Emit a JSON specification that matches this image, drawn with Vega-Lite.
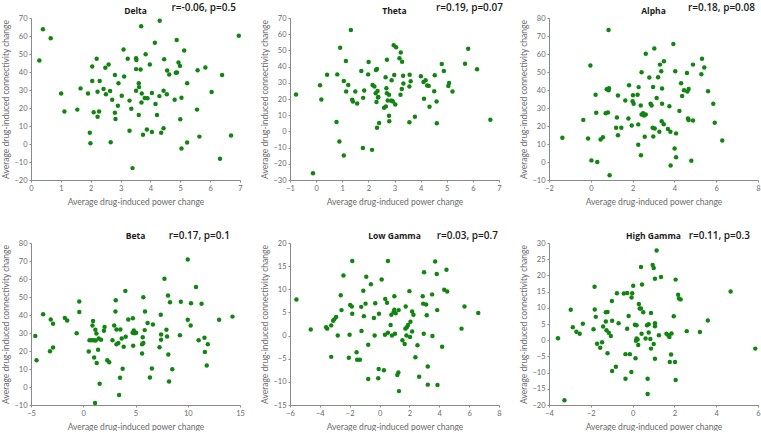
{
  "$schema": "https://vega.github.io/schema/vega-lite/v6.json",
  "background": "white",
  "padding": {"left": 1, "top": 3, "right": 0, "bottom": 0},
  "columns": 3,
  "bounds": "flush",
  "spacing": {"row": 63, "column": 50},
  "config": {
    "view": {"stroke": null},
    "axis": {
      "grid": false,
      "domainColor": "#8a8a8a",
      "tickColor": "#8a8a8a",
      "labelColor": "#6a6a6a",
      "titleColor": "#6a6a6a",
      "labelFont": "Lato",
      "titleFont": "Lato",
      "labelFontSize": 7.5,
      "titleFontSize": 8.5,
      "titleFontWeight": "normal",
      "tickSize": 2,
      "labelPadding": 2,
      "titlePadding": 3,
      "labelOverlap": false,
      "labelFlush": false,
      "labelBound": false
    },
    "axisX": {"titlePadding": 6},
    "text": {"font": "Open Sans", "color": "#1a1a1a", "baseline": "alphabetic"}
  },
  "datasets": {
    "delta": [
      {"x":0.28,"y":46.4},{"x":0.40,"y":63.7},{"x":0.66,"y":58.7},{"x":1.01,"y":28.1},{"x":1.12,"y":18.0},{"x":1.55,"y":19.1},{"x":1.66,"y":30.9},{"x":1.91,"y":28.1},{"x":1.97,"y":6.2},{"x":1.99,"y":0.4},
      {"x":2.05,"y":43.1},{"x":2.05,"y":35.0},{"x":2.10,"y":17.6},{"x":2.20,"y":47.3},{"x":2.23,"y":29.0},{"x":2.23,"y":15.2},{"x":2.30,"y":35.0},{"x":2.28,"y":18.0},{"x":2.43,"y":30.5},{"x":2.49,"y":42.3},
      {"x":2.51,"y":27.7},{"x":2.60,"y":44.2},{"x":2.65,"y":29.4},{"x":2.67,"y":1.0},{"x":2.72,"y":24.6},{"x":2.81,"y":38.3},{"x":2.81,"y":17.4},{"x":2.83,"y":13.9},{"x":2.91,"y":21.3},{"x":2.93,"y":33.7},
      {"x":3.04,"y":26.8},{"x":3.10,"y":52.5},{"x":3.12,"y":37.5},{"x":3.24,"y":47.3},{"x":3.30,"y":7.3},{"x":3.30,"y":24.1},{"x":3.36,"y":19.6},{"x":3.40,"y":-13.4},{"x":3.52,"y":29.6},{"x":3.52,"y":41.6},
      {"x":3.52,"y":47.7},{"x":3.53,"y":46.6},{"x":3.61,"y":33.7},{"x":3.62,"y":31.6},{"x":3.61,"y":16.1},{"x":3.67,"y":41.4},{"x":3.69,"y":65.4},{"x":3.70,"y":23.1},{"x":3.71,"y":28.1},{"x":3.75,"y":5.1},
      {"x":3.84,"y":49.9},{"x":3.81,"y":25.5},{"x":3.90,"y":25.4},{"x":3.88,"y":8.0},{"x":3.98,"y":44.2},{"x":4.05,"y":28.3},{"x":4.05,"y":6.7},{"x":4.15,"y":56.2},{"x":4.17,"y":22.2},{"x":4.22,"y":16.1},
      {"x":4.31,"y":68.5},{"x":4.30,"y":26.6},{"x":4.36,"y":6.2},{"x":4.44,"y":29.6},{"x":4.44,"y":8.7},{"x":4.46,"y":47.1},{"x":4.55,"y":27.7},{"x":4.56,"y":40.8},{"x":4.63,"y":38.6},{"x":4.81,"y":24.6},
      {"x":4.85,"y":39.6},{"x":4.88,"y":57.8},{"x":4.89,"y":39.7},{"x":4.94,"y":45.3},{"x":4.99,"y":43.4},{"x":5.00,"y":13.7},{"x":5.04,"y":25.7},{"x":5.04,"y":-2.5},{"x":5.13,"y":51.9},{"x":5.23,"y":33.8},
      {"x":5.23,"y":0.8},{"x":5.56,"y":19.1},{"x":5.58,"y":41.0},{"x":5.64,"y":4.1},{"x":5.84,"y":42.5},{"x":6.05,"y":28.9},{"x":6.33,"y":-8.2},{"x":6.40,"y":38.3},{"x":6.70,"y":4.7},{"x":6.96,"y":60.2}
    ],
    "theta": [
      {"x":-0.77,"y":22.8},{"x":-0.12,"y":-25.9},{"x":0.15,"y":28.5},{"x":0.20,"y":19.7},{"x":0.42,"y":35.0},{"x":0.78,"y":5.8},{"x":0.81,"y":35.2},{"x":0.89,"y":-6.3},{"x":0.92,"y":51.6},{"x":1.06,"y":-14.9},
      {"x":1.06,"y":31.1},{"x":1.14,"y":43.4},{"x":1.15,"y":24.6},{"x":1.23,"y":28.7},{"x":1.33,"y":62.6},{"x":1.38,"y":19.5},{"x":1.41,"y":18.5},{"x":1.50,"y":24.6},{"x":1.57,"y":17.2},{"x":1.73,"y":37.3},
      {"x":1.79,"y":-10.2},{"x":1.80,"y":20.7},{"x":1.84,"y":25.2},{"x":1.99,"y":35.2},{"x":2.01,"y":42.8},{"x":2.14,"y":-11.4},{"x":2.16,"y":28.7},{"x":2.23,"y":27.7},{"x":2.28,"y":23.6},{"x":2.29,"y":37.9},
      {"x":2.31,"y":18.1},{"x":2.33,"y":2.3},{"x":2.33,"y":38.5},{"x":2.35,"y":25.0},{"x":2.37,"y":20.9},{"x":2.38,"y":21.3},{"x":2.41,"y":5.2},{"x":2.60,"y":14.6},{"x":2.66,"y":33.4},{"x":2.67,"y":15.4},
      {"x":2.69,"y":26.6},{"x":2.71,"y":23.6},{"x":2.71,"y":44.2},{"x":2.74,"y":19.1},{"x":2.79,"y":9.7},{"x":2.79,"y":22.6},{"x":2.80,"y":6.2},{"x":2.87,"y":18.9},{"x":2.89,"y":31.6},{"x":2.90,"y":18.9},
      {"x":2.94,"y":18.5},{"x":2.97,"y":53.2},{"x":2.99,"y":34.8},{"x":3.03,"y":16.6},{"x":3.06,"y":52.0},{"x":3.19,"y":45.1},{"x":3.24,"y":48.7},{"x":3.23,"y":22.6},{"x":3.28,"y":26.2},{"x":3.29,"y":43.0},
      {"x":3.33,"y":34.4},{"x":3.34,"y":29.5},{"x":3.57,"y":5.6},{"x":3.57,"y":27.7},{"x":3.58,"y":35.0},{"x":3.62,"y":30.9},{"x":3.78,"y":9.1},{"x":4.01,"y":34.0},{"x":4.11,"y":30.5},{"x":4.13,"y":20.1},
      {"x":4.19,"y":31.6},{"x":4.25,"y":28.3},{"x":4.31,"y":28.1},{"x":4.34,"y":15.2},{"x":4.52,"y":24.8},{"x":4.54,"y":34.6},{"x":4.61,"y":18.5},{"x":4.62,"y":5.0},{"x":4.81,"y":41.6},{"x":4.89,"y":37.3},
      {"x":5.06,"y":28.1},{"x":5.09,"y":29.9},{"x":5.22,"y":24.6},{"x":5.70,"y":41.8},{"x":5.82,"y":51.0},{"x":6.16,"y":38.3},{"x":6.67,"y":7.2}
    ],
    "alpha": [
      {"x":-1.36,"y":13.5},{"x":-0.36,"y":23.4},{"x":-0.13,"y":13.1},{"x":-0.02,"y":53.6},{"x":0.03,"y":0.9},{"x":0.23,"y":37.3},{"x":0.26,"y":27.3},{"x":0.31,"y":0.0},{"x":0.47,"y":12.5},{"x":0.58,"y":13.8},
      {"x":0.71,"y":27.1},{"x":0.76,"y":40.4},{"x":0.82,"y":27.5},{"x":0.85,"y":39.9},{"x":0.87,"y":41.0},{"x":0.85,"y":73.3},{"x":0.90,"y":-7.4},{"x":1.30,"y":36.9},{"x":1.25,"y":24.7},{"x":1.21,"y":19.0},
      {"x":1.30,"y":14.8},{"x":1.46,"y":19.0},{"x":1.65,"y":34.2},{"x":1.80,"y":24.2},{"x":1.83,"y":42.7},{"x":1.96,"y":20.3},{"x":2.00,"y":33.8},{"x":2.02,"y":37.1},{"x":2.05,"y":32.3},{"x":2.24,"y":37.3},
      {"x":2.27,"y":20.9},{"x":2.29,"y":41.6},{"x":2.27,"y":9.6},{"x":2.39,"y":31.4},{"x":2.40,"y":3.7},{"x":2.43,"y":49.9},{"x":2.43,"y":26.4},{"x":2.50,"y":27.1},{"x":2.55,"y":25.8},{"x":2.58,"y":14.0},
      {"x":2.63,"y":60.2},{"x":2.63,"y":26.4},{"x":2.80,"y":46.9},{"x":2.86,"y":32.3},{"x":2.91,"y":31.4},{"x":2.96,"y":19.0},{"x":2.99,"y":14.2},{"x":2.98,"y":41.7},{"x":3.04,"y":63.0},{"x":3.06,"y":18.6},
      {"x":3.15,"y":35.6},{"x":3.22,"y":47.1},{"x":3.28,"y":16.8},{"x":3.31,"y":54.1},{"x":3.37,"y":50.4},{"x":3.39,"y":22.7},{"x":3.41,"y":40.8},{"x":3.41,"y":32.3},{"x":3.49,"y":21.0},{"x":3.50,"y":56.0},
      {"x":3.69,"y":18.3},{"x":3.76,"y":31.0},{"x":3.81,"y":16.8},{"x":3.82,"y":-1.9},{"x":3.95,"y":65.6},{"x":4.01,"y":7.5},{"x":4.04,"y":50.4},{"x":4.08,"y":15.9},{"x":4.08,"y":2.7},{"x":4.24,"y":28.4},
      {"x":4.32,"y":43.8},{"x":4.37,"y":36.7},{"x":4.46,"y":39.9},{"x":4.60,"y":49.5},{"x":4.62,"y":39.1},{"x":4.65,"y":24.2},{"x":4.68,"y":23.3},{"x":4.68,"y":40.6},{"x":4.81,"y":0.7},{"x":4.89,"y":54.1},
      {"x":4.89,"y":23.1},{"x":5.29,"y":48.8},{"x":5.32,"y":57.4},{"x":5.43,"y":52.5},{"x":5.61,"y":39.3},{"x":5.86,"y":32.3},{"x":5.93,"y":21.8},{"x":6.29,"y":12.0}
    ],
    "beta": [
      {"x":-4.59,"y":28.4},{"x":-4.47,"y":14.9},{"x":-3.84,"y":40.4},{"x":-3.11,"y":37.5},{"x":-3.18,"y":19.9},{"x":-2.89,"y":35.1},{"x":-2.89,"y":22.0},{"x":-1.76,"y":38.4},{"x":-1.54,"y":36.9},{"x":-0.63,"y":29.9},
      {"x":-0.38,"y":47.5},{"x":-0.38,"y":41.7},{"x":0.53,"y":19.7},{"x":0.60,"y":26.0},{"x":0.82,"y":26.0},{"x":0.88,"y":34.2},{"x":0.94,"y":36.7},{"x":1.01,"y":26.0},{"x":1.04,"y":16.4},{"x":1.13,"y":-8.9},
      {"x":1.16,"y":31.8},{"x":1.19,"y":25.8},{"x":1.26,"y":29.7},{"x":1.29,"y":13.3},{"x":1.42,"y":20.7},{"x":1.48,"y":27.0},{"x":1.57,"y":1.8},{"x":1.70,"y":26.2},{"x":1.98,"y":31.2},{"x":2.04,"y":33.4},
      {"x":2.30,"y":14.8},{"x":2.48,"y":13.8},{"x":2.80,"y":26.0},{"x":2.96,"y":34.2},{"x":3.08,"y":41.9},{"x":3.11,"y":48.2},{"x":3.18,"y":31.9},{"x":3.18,"y":23.8},{"x":3.36,"y":24.5},{"x":3.43,"y":-4.5},
      {"x":3.52,"y":5.1},{"x":3.55,"y":31.9},{"x":3.68,"y":27.0},{"x":3.77,"y":10.1},{"x":3.87,"y":22.3},{"x":4.06,"y":27.9},{"x":4.03,"y":53.4},{"x":4.31,"y":37.5},{"x":4.75,"y":38.2},{"x":4.72,"y":30.1},
      {"x":4.78,"y":22.9},{"x":4.84,"y":31.4},{"x":4.91,"y":29.9},{"x":5.06,"y":30.1},{"x":5.63,"y":18.6},{"x":5.63,"y":23.8},{"x":5.69,"y":27.7},{"x":5.75,"y":24.5},{"x":5.75,"y":49.9},{"x":5.88,"y":31.6},
      {"x":5.91,"y":41.9},{"x":6.16,"y":35.6},{"x":6.38,"y":5.3},{"x":6.57,"y":10.3},{"x":6.67,"y":34.7},{"x":7.30,"y":22.1},{"x":7.42,"y":40.1},{"x":7.45,"y":29.2},{"x":7.45,"y":26.2},{"x":7.77,"y":60.2},
      {"x":7.96,"y":31.8},{"x":8.02,"y":28.1},{"x":8.11,"y":50.8},{"x":8.14,"y":18.1},{"x":8.21,"y":3.1},{"x":8.30,"y":47.1},{"x":8.52,"y":9.8},{"x":9.25,"y":28.8},{"x":9.34,"y":47.3},{"x":10.00,"y":70.8},
      {"x":10.00,"y":37.3},{"x":10.28,"y":34.2},{"x":10.31,"y":46.5},{"x":10.79,"y":55.6},{"x":11.04,"y":26.0},{"x":11.32,"y":46.2},{"x":11.60,"y":27.3},{"x":11.64,"y":19.4},{"x":11.82,"y":12.0},{"x":11.92,"y":23.8},
      {"x":13.0,"y":37.3},{"x":14.28,"y":39.1}
    ],
    "lowgamma": [
      {"x":-5.57,"y":7.8},{"x":-4.61,"y":1.3},{"x":-3.58,"y":1.8},{"x":-3.51,"y":1.5},{"x":-3.24,"y":2.2},{"x":-3.24,"y":-4.6},{"x":-3.11,"y":3.2},{"x":-3.04,"y":3.5},{"x":-2.91,"y":4.0},{"x":-2.80,"y":0.0},
      {"x":-2.60,"y":8.7},{"x":-2.55,"y":5.5},{"x":-2.42,"y":13.0},{"x":-2.06,"y":-4.8},{"x":-2.01,"y":0.2},{"x":-1.97,"y":6.6},{"x":-1.86,"y":6.3},{"x":-1.83,"y":16.1},{"x":-1.83,"y":4.7},{"x":-1.54,"y":-3.6},
      {"x":-1.50,"y":-5.2},{"x":-1.32,"y":-5.2},{"x":-1.23,"y":6.2},{"x":-1.21,"y":1.0},{"x":-1.09,"y":9.7},{"x":-1.05,"y":4.2},{"x":-0.89,"y":12.7},{"x":-0.94,"y":6.9},{"x":-0.76,"y":-2.0},{"x":-0.76,"y":-9.4},
      {"x":-0.58,"y":11.1},{"x":-0.38,"y":3.8},{"x":-0.33,"y":0.0},{"x":-0.29,"y":7.0},{"x":-0.06,"y":-7.2},{"x":-0.04,"y":4.7},{"x":-0.09,"y":-9.2},{"x":0.14,"y":12.1},{"x":0.29,"y":-7.5},{"x":0.38,"y":7.9},
      {"x":0.36,"y":0.2},{"x":0.50,"y":7.1},{"x":0.56,"y":16.1},{"x":0.56,"y":0.6},{"x":0.74,"y":2.3},{"x":0.79,"y":4.5},{"x":0.83,"y":0.0},{"x":0.94,"y":5.1},{"x":0.99,"y":5.6},{"x":0.99,"y":8.5},
      {"x":1.03,"y":0.4},{"x":1.08,"y":4.8},{"x":1.19,"y":-8.5},{"x":1.26,"y":-8.0},{"x":1.28,"y":5.5},{"x":1.30,"y":-12.0},{"x":1.53,"y":-1.0},{"x":1.68,"y":-1.8},{"x":1.73,"y":1.5},{"x":1.75,"y":6.3},
      {"x":1.80,"y":0.0},{"x":1.82,"y":1.8},{"x":1.91,"y":2.3},{"x":2.00,"y":9.6},{"x":2.04,"y":-0.3},{"x":2.07,"y":3.0},{"x":2.18,"y":0.9},{"x":2.18,"y":5.2},{"x":2.27,"y":4.5},{"x":2.40,"y":-4.7},
      {"x":2.54,"y":-2.1},{"x":2.65,"y":-8.9},{"x":2.89,"y":8.5},{"x":2.92,"y":6.9},{"x":2.96,"y":0.4},{"x":2.98,"y":13.7},{"x":3.12,"y":6.7},{"x":3.16,"y":4.4},{"x":3.23,"y":-6.7},{"x":3.23,"y":-10.6},
      {"x":3.52,"y":8.9},{"x":3.54,"y":-0.1},{"x":3.72,"y":16.0},{"x":3.83,"y":13.3},{"x":3.86,"y":5.5},{"x":3.88,"y":-10.7},{"x":4.19,"y":-2.4},{"x":4.33,"y":9.9},{"x":4.48,"y":14.2},{"x":4.53,"y":9.5},
      {"x":5.49,"y":1.5},{"x":5.69,"y":6.3},{"x":6.61,"y":4.9}
    ],
    "highgamma": [
      {"x":-3.57,"y":0.6},{"x":-3.26,"y":-18.5},{"x":-2.96,"y":9.4},{"x":-2.86,"y":4.0},{"x":-2.69,"y":2.6},{"x":-2.53,"y":2.0},{"x":-2.38,"y":5.1},{"x":-1.87,"y":3.4},{"x":-1.82,"y":16.5},{"x":-1.81,"y":9.5},
      {"x":-1.76,"y":7.2},{"x":-1.70,"y":-1.1},{"x":-1.55,"y":-2.3},{"x":-1.46,"y":-0.6},{"x":-1.41,"y":4.2},{"x":-1.28,"y":8.6},{"x":-1.28,"y":5.8},{"x":-1.25,"y":3.1},{"x":-1.20,"y":8.7},{"x":-1.20,"y":-4.0},
      {"x":-1.14,"y":2.3},{"x":-1.04,"y":1.3},{"x":-0.99,"y":12.1},{"x":-0.98,"y":6.0},{"x":-0.98,"y":-9.5},{"x":-0.80,"y":-8.2},{"x":-0.75,"y":14.5},{"x":-0.67,"y":5.2},{"x":-0.42,"y":14.4},{"x":-0.34,"y":-11.9},
      {"x":-0.34,"y":-4.3},{"x":-0.26,"y":3.5},{"x":-0.26,"y":14.6},{"x":-0.19,"y":7.5},{"x":-0.13,"y":-4.3},{"x":-0.06,"y":-9.8},{"x":-0.05,"y":13.2},{"x":-0.02,"y":14.5},{"x":0.03,"y":16.8},{"x":0.11,"y":4.8},
      {"x":0.14,"y":-5.6},{"x":0.16,"y":-0.2},{"x":0.19,"y":4.6},{"x":0.19,"y":0.5},{"x":0.24,"y":0.2},{"x":0.27,"y":-1.5},{"x":0.30,"y":11.2},{"x":0.34,"y":9.8},{"x":0.40,"y":9.8},{"x":0.40,"y":22.6},
      {"x":0.43,"y":2.0},{"x":0.45,"y":17.2},{"x":0.51,"y":8.6},{"x":0.62,"y":0.5},{"x":0.69,"y":4.6},{"x":0.72,"y":-11.9},{"x":0.72,"y":-16.6},{"x":0.77,"y":4.9},{"x":0.77,"y":2.4},{"x":0.85,"y":0.4},
      {"x":0.88,"y":8.4},{"x":0.88,"y":-2.6},{"x":0.96,"y":23.2},{"x":1.01,"y":22.3},{"x":1.01,"y":-1.2},{"x":1.07,"y":5.2},{"x":1.07,"y":4.3},{"x":1.07,"y":-5.7},{"x":1.07,"y":19.0},{"x":1.15,"y":27.7},
      {"x":1.26,"y":1.5},{"x":1.36,"y":19.5},{"x":1.62,"y":2.0},{"x":1.71,"y":1.5},{"x":1.76,"y":1.0},{"x":1.78,"y":-6.7},{"x":1.84,"y":-4.4},{"x":1.86,"y":2.1},{"x":1.97,"y":7.4},{"x":2.03,"y":-6.7},
      {"x":2.06,"y":18.7},{"x":2.06,"y":-12.3},{"x":2.18,"y":14.0},{"x":2.22,"y":12.9},{"x":2.30,"y":12.6},{"x":2.59,"y":2.8},{"x":3.22,"y":2.5},{"x":3.60,"y":6.1},{"x":4.69,"y":15.0},{"x":5.87,"y":-2.6}
    ]
  },
  "concat": [
    {
      "width": 209, "height": 162,
      "layer": [
        {"data": {"name": "delta"}, "mark": {"type": "circle", "size": 20, "color": "#108510", "opacity": 1},
         "encoding": {
           "x": {"field": "x", "type": "quantitative", "scale": {"domain": [0, 7], "nice": false}, "axis": {"values": [0,1,2,3,4,5,6,7], "title": "Average drug-induced power change"}},
           "y": {"field": "y", "type": "quantitative", "scale": {"domain": [-20, 70], "nice": false}, "axis": {"values": [-20,-10,0,10,20,30,40,50,60,70], "title": "Average drug-induced connectivity change"}}}},
        {"data": {"values": [{"label": "Delta"}]}, "mark": {"type": "text", "align": "center", "dy": -4, "fontSize": 8.5, "fontWeight": "bold"},
         "encoding": {
           "x": {"datum": 3.5, "type": "quantitative", "axis": {"values": [0,1,2,3,4,5,6,7], "title": "Average drug-induced power change"}},
           "y": {"datum": 70, "type": "quantitative", "axis": {"values": [-20,-10,0,10,20,30,40,50,60,70], "title": "Average drug-induced connectivity change"}},
           "text": {"field": "label"}}},
        {"data": {"values": [{"label": "r=-0.06, p=0.5"}]}, "mark": {"type": "text", "align": "right", "dx": -4, "dy": -7, "fontSize": 10, "fontWeight": 600},
         "encoding": {
           "x": {"datum": 7, "type": "quantitative", "axis": {"values": [0,1,2,3,4,5,6,7], "title": "Average drug-induced power change"}},
           "y": {"datum": 70, "type": "quantitative", "axis": {"values": [-20,-10,0,10,20,30,40,50,60,70], "title": "Average drug-induced connectivity change"}},
           "text": {"field": "label"}}}
      ]
    },
    {
      "width": 209, "height": 162,
      "layer": [
        {"data": {"name": "theta"}, "mark": {"type": "circle", "size": 20, "color": "#108510", "opacity": 1},
         "encoding": {
           "x": {"field": "x", "type": "quantitative", "scale": {"domain": [-1, 7], "nice": false}, "axis": {"values": [-1,0,1,2,3,4,5,6,7], "title": "Average drug-induced power change"}},
           "y": {"field": "y", "type": "quantitative", "scale": {"domain": [-30, 70], "nice": false}, "axis": {"values": [-30,-20,-10,0,10,20,30,40,50,60,70], "title": "Average drug-induced connectivity change"}}}},
        {"data": {"values": [{"label": "Theta"}]}, "mark": {"type": "text", "align": "center", "dy": -4, "fontSize": 8.5, "fontWeight": "bold"},
         "encoding": {
           "x": {"datum": 3, "type": "quantitative", "axis": {"values": [-1,0,1,2,3,4,5,6,7], "title": "Average drug-induced power change"}},
           "y": {"datum": 70, "type": "quantitative", "axis": {"values": [-30,-20,-10,0,10,20,30,40,50,60,70], "title": "Average drug-induced connectivity change"}},
           "text": {"field": "label"}}},
        {"data": {"values": [{"label": "r=0.19, p=0.07"}]}, "mark": {"type": "text", "align": "right", "dx": 4, "dy": -7, "fontSize": 10, "fontWeight": 600},
         "encoding": {
           "x": {"datum": 7, "type": "quantitative", "axis": {"values": [-1,0,1,2,3,4,5,6,7], "title": "Average drug-induced power change"}},
           "y": {"datum": 70, "type": "quantitative", "axis": {"values": [-30,-20,-10,0,10,20,30,40,50,60,70], "title": "Average drug-induced connectivity change"}},
           "text": {"field": "label"}}}
      ]
    },
    {
      "width": 209, "height": 162,
      "layer": [
        {"data": {"name": "alpha"}, "mark": {"type": "circle", "size": 20, "color": "#108510", "opacity": 1},
         "encoding": {
           "x": {"field": "x", "type": "quantitative", "scale": {"domain": [-2, 8], "nice": false}, "axis": {"values": [-2,0,2,4,6,8], "title": "Average drug-induced power change"}},
           "y": {"field": "y", "type": "quantitative", "scale": {"domain": [-10, 80], "nice": false}, "axis": {"values": [-10,0,10,20,30,40,50,60,70,80], "title": "Average drug-induced connectivity change"}}}},
        {"data": {"values": [{"label": "Alpha"}]}, "mark": {"type": "text", "align": "center", "dy": -4, "fontSize": 8.5, "fontWeight": "bold"},
         "encoding": {
           "x": {"datum": 3, "type": "quantitative", "axis": {"values": [-2,0,2,4,6,8], "title": "Average drug-induced power change"}},
           "y": {"datum": 80, "type": "quantitative", "axis": {"values": [-10,0,10,20,30,40,50,60,70,80], "title": "Average drug-induced connectivity change"}},
           "text": {"field": "label"}}},
        {"data": {"values": [{"label": "r=0.18, p=0.08"}]}, "mark": {"type": "text", "align": "right", "dx": -3, "dy": -7, "fontSize": 10, "fontWeight": 600},
         "encoding": {
           "x": {"datum": 8, "type": "quantitative", "axis": {"values": [-2,0,2,4,6,8], "title": "Average drug-induced power change"}},
           "y": {"datum": 80, "type": "quantitative", "axis": {"values": [-10,0,10,20,30,40,50,60,70,80], "title": "Average drug-induced connectivity change"}},
           "text": {"field": "label"}}}
      ]
    },
    {
      "width": 209, "height": 162,
      "layer": [
        {"data": {"name": "beta"}, "mark": {"type": "circle", "size": 20, "color": "#108510", "opacity": 1},
         "encoding": {
           "x": {"field": "x", "type": "quantitative", "scale": {"domain": [-5, 15], "nice": false}, "axis": {"values": [-5,0,5,10,15], "title": "Average drug-induced power change"}},
           "y": {"field": "y", "type": "quantitative", "scale": {"domain": [-10, 80], "nice": false}, "axis": {"values": [-10,0,10,20,30,40,50,60,70,80], "title": "Average drug-induced connectivity change"}}}},
        {"data": {"values": [{"label": "Beta"}]}, "mark": {"type": "text", "align": "center", "dy": -4, "fontSize": 8.5, "fontWeight": "bold"},
         "encoding": {
           "x": {"datum": 5, "type": "quantitative", "axis": {"values": [-5,0,5,10,15], "title": "Average drug-induced power change"}},
           "y": {"datum": 80, "type": "quantitative", "axis": {"values": [-10,0,10,20,30,40,50,60,70,80], "title": "Average drug-induced connectivity change"}},
           "text": {"field": "label"}}},
        {"data": {"values": [{"label": "r=0.17, p=0.1"}]}, "mark": {"type": "text", "align": "right", "dx": -10, "dy": -4, "fontSize": 10, "fontWeight": 600},
         "encoding": {
           "x": {"datum": 15, "type": "quantitative", "axis": {"values": [-5,0,5,10,15], "title": "Average drug-induced power change"}},
           "y": {"datum": 80, "type": "quantitative", "axis": {"values": [-10,0,10,20,30,40,50,60,70,80], "title": "Average drug-induced connectivity change"}},
           "text": {"field": "label"}}}
      ]
    },
    {
      "width": 209, "height": 162,
      "layer": [
        {"data": {"name": "lowgamma"}, "mark": {"type": "circle", "size": 20, "color": "#108510", "opacity": 1},
         "encoding": {
           "x": {"field": "x", "type": "quantitative", "scale": {"domain": [-6, 8], "nice": false}, "axis": {"values": [-6,-4,-2,0,2,4,6,8], "title": "Average drug-induced power change"}},
           "y": {"field": "y", "type": "quantitative", "scale": {"domain": [-15, 20], "nice": false}, "axis": {"values": [-15,-10,-5,0,5,10,15,20], "title": "Average drug-induced connectivity change"}}}},
        {"data": {"values": [{"label": "Low Gamma"}]}, "mark": {"type": "text", "align": "center", "dy": -4, "fontSize": 8.5, "fontWeight": "bold"},
         "encoding": {
           "x": {"datum": 1, "type": "quantitative", "axis": {"values": [-6,-4,-2,0,2,4,6,8], "title": "Average drug-induced power change"}},
           "y": {"datum": 20, "type": "quantitative", "axis": {"values": [-15,-10,-5,0,5,10,15,20], "title": "Average drug-induced connectivity change"}},
           "text": {"field": "label"}}},
        {"data": {"values": [{"label": "r=0.03, p=0.7"}]}, "mark": {"type": "text", "align": "right", "dx": -1, "dy": -4, "fontSize": 10, "fontWeight": 600},
         "encoding": {
           "x": {"datum": 8, "type": "quantitative", "axis": {"values": [-6,-4,-2,0,2,4,6,8], "title": "Average drug-induced power change"}},
           "y": {"datum": 20, "type": "quantitative", "axis": {"values": [-15,-10,-5,0,5,10,15,20], "title": "Average drug-induced connectivity change"}},
           "text": {"field": "label"}}}
      ]
    },
    {
      "width": 209, "height": 162,
      "layer": [
        {"data": {"name": "highgamma"}, "mark": {"type": "circle", "size": 20, "color": "#108510", "opacity": 1},
         "encoding": {
           "x": {"field": "x", "type": "quantitative", "scale": {"domain": [-4, 6], "nice": false}, "axis": {"values": [-4,-2,0,2,4,6], "title": "Average drug-induced power change"}},
           "y": {"field": "y", "type": "quantitative", "scale": {"domain": [-20, 30], "nice": false}, "axis": {"values": [-20,-15,-10,-5,0,5,10,15,20,25,30], "title": "Average drug-induced connectivity change"}}}},
        {"data": {"values": [{"label": "High Gamma"}]}, "mark": {"type": "text", "align": "center", "dy": -4, "fontSize": 8.5, "fontWeight": "bold"},
         "encoding": {
           "x": {"datum": 1, "type": "quantitative", "axis": {"values": [-4,-2,0,2,4,6], "title": "Average drug-induced power change"}},
           "y": {"datum": 30, "type": "quantitative", "axis": {"values": [-20,-15,-10,-5,0,5,10,15,20,25,30], "title": "Average drug-induced connectivity change"}},
           "text": {"field": "label"}}},
        {"data": {"values": [{"label": "r=0.11, p=0.3"}]}, "mark": {"type": "text", "align": "right", "dx": -8, "dy": -4, "fontSize": 10, "fontWeight": 600},
         "encoding": {
           "x": {"datum": 6, "type": "quantitative", "axis": {"values": [-4,-2,0,2,4,6], "title": "Average drug-induced power change"}},
           "y": {"datum": 30, "type": "quantitative", "axis": {"values": [-20,-15,-10,-5,0,5,10,15,20,25,30], "title": "Average drug-induced connectivity change"}},
           "text": {"field": "label"}}}
      ]
    }
  ]
}
